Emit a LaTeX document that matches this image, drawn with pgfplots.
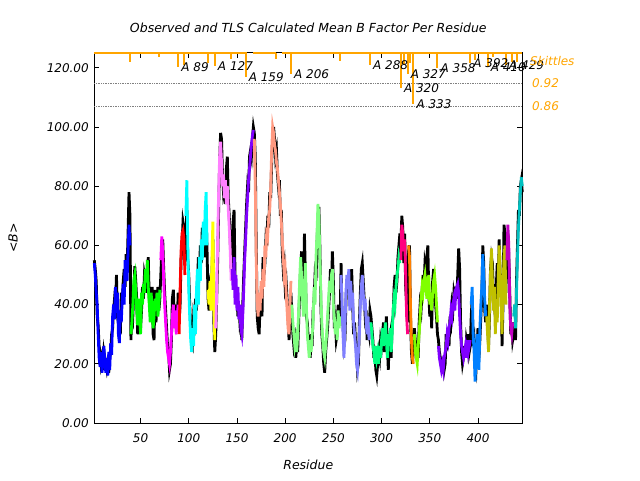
\documentclass[border=0pt]{standalone}
\usepackage{fontspec}
\setmainfont{DejaVu Sans}
\usepackage{pgfplots}
\usepackage{pgfplotstable}
\pgfplotsset{compat=1.18}
\definecolor{sk}{RGB}{255,165,0}
\definecolor{c01}{HTML}{0000FF}
\definecolor{c02}{HTML}{00FF00}
\definecolor{c03}{HTML}{FF00FF}
\definecolor{c04}{HTML}{FF0000}
\definecolor{c05}{HTML}{00FFFF}
\definecolor{c06}{HTML}{FFFF00}
\definecolor{c07}{HTML}{FF80FF}
\definecolor{c08}{HTML}{8000FF}
\definecolor{c09}{HTML}{FF9980}
\definecolor{c10}{HTML}{80FF80}
\definecolor{c11}{HTML}{8080FF}
\definecolor{c12}{HTML}{00FF80}
\definecolor{c13}{HTML}{FF0080}
\definecolor{c14}{HTML}{FF8000}
\definecolor{c15}{HTML}{80FF00}
\definecolor{c16}{HTML}{8000FF}
\definecolor{c17}{HTML}{0080FF}
\definecolor{c18}{HTML}{C0C000}
\definecolor{c19}{HTML}{C000C0}
\definecolor{c20}{HTML}{00C0C0}
\pgfplotstableread{
r obs calc
2 55 54
3 52 50
4 48 44
5 36 40
6 33 30
7 26 22
8 24 19
9 20 24
10 22 17
11 18 22
12 24 26
13 22 20
14 20 17
15 18 22
16 20 16
17 17 24
18 22 18
19 24 27
20 30 23
21 32 36
22 38 40
23 42 35
24 40 46
25 50 38
26 36 44
27 34 30
28 32 27
29 30 38
30 44 34
31 40 42
32 48 47
33 52 40
34 46 55
35 57 50
36 52 48
37 64 58
38 78 67
39 70 60
40 28 30
41 38 34
42 36 40
43 44 48
44 53 50
45 48 45
46 42 38
47 30 33
48 36 42
49 40 36
50 32 30
51 38 44
52 46 40
53 42 47
54 50 44
55 48 52
56 44 48
57 52 55
58 56 46
59 42 40
60 38 34
61 36 44
62 46 38
63 30 32
64 28 36
65 45 42
66 34 38
67 40 44
68 46 36
69 38 40
70 42 45
71 50 55
72 58 63
73 62 58
74 52 48
75 44 40
76 38 34
77 32 28
78 26 24
79 24 22
80 18 20
81 20 24
82 28 30
83 42 36
84 45 40
85 36 32
86 34 38
87 40 30
88 33 36
89 44 40
90 34 30
91 40 45
92 55 58
93 60 64
94 68 65
95 66 62
96 55 50
97 62 70
98 72 82
99 55 60
100 50 45
101 40 36
102 32 28
103 30 24
104 28 32
105 36 26
106 34 40
107 42 30
108 38 45
109 48 52
110 56 40
111 50 56
112 60 48
113 54 62
114 66 55
115 60 68
116 56 60
117 64 72
118 70 78
119 58 60
120 42 45
121 38 40
122 46 48
123 44 38
124 50 55
125 62 68
126 34 40
127 24 28
128 30 32
129 42 45
130 55 62
131 72 78
132 88 90
133 98 95
134 96 88
135 84 80
136 78 84
137 80 76
138 74 82
139 86 74
140 90 80
141 76 72
142 70 66
143 62 58
144 52 48
145 56 52
146 68 45
147 72 56
148 50 40
149 44 50
150 42 38
151 36 46
152 40 35
153 34 40
154 36 32
155 28 30
156 40 36
157 50 45
158 58 55
159 66 62
160 74 70
161 80 76
162 78 82
163 90 86
164 92 90
165 90 94
166 96 97
167 100 99
168 98 96
169 90 80
170 60 55
171 36 40
172 32 36
173 30 44
174 40 38
175 42 48
176 36 42
177 56 52
178 50 46
179 54 60
180 62 56
181 60 66
182 70 64
183 66 70
184 78 72
185 76 80
186 88 92
187 96 100
188 100 98
189 96 94
190 90 92
191 92 88
192 84 86
193 80 82
194 82 78
195 70 74
196 72 68
197 58 62
198 52 56
199 54 50
200 46 52
201 48 44
202 42 38
203 36 32
204 28 30
205 34 40
206 44 48
207 36 40
208 30 34
209 26 30
210 28 26
211 22 28
212 26 24
213 24 30
214 34 38
215 44 48
216 52 56
217 58 50
218 46 42
219 40 36
220 64 44
221 50 54
222 36 40
223 34 30
224 28 26
225 26 22
226 22 28
227 30 24
228 26 30
229 38 34
230 42 46
231 50 40
232 48 56
233 60 64
234 70 74
235 73 70
236 60 56
237 40 44
238 30 34
239 26 28
240 20 24
241 17 22
242 24 26
243 28 30
244 32 36
245 38 42
246 44 48
247 52 44
248 46 50
249 58 52
250 48 40
251 32 36
252 34 30
253 28 34
254 30 28
255 40 38
256 36 32
257 34 36
258 54 50
259 36 40
260 34 30
261 26 22
262 28 32
263 40 44
264 48 50
265 44 46
266 50 52
267 42 38
268 46 48
269 52 40
270 40 44
271 30 34
272 34 30
273 28 26
274 24 20
275 18 18
276 20 24
277 34 30
278 44 40
279 52 46
280 54 50
281 48 44
282 42 38
283 36 42
284 38 34
285 28 30
286 32 36
287 30 28
288 38 34
289 36 34
290 32 30
291 28 26
292 22 24
293 26 20
294 18 26
295 16 22
296 20 24
297 24 20
298 22 26
299 28 22
300 26 28
301 30 32
302 34 26
303 24 30
304 30 34
305 36 28
306 26 22
307 18 30
308 28 26
309 30 32
310 22 24
311 34 30
312 36 38
313 46 42
314 50 40
315 44 46
316 48 50
317 56 52
318 60 56
319 64 54
320 60 55
321 70 67
322 66 64
323 54 58
324 64 62
325 46 50
326 40 36
327 34 30
328 58 60
329 60 56
330 36 40
331 24 28
332 20 22
333 24 20
334 32 30
335 28 24
336 26 22
337 24 20
338 22 26
339 34 30
340 40 36
341 38 42
342 44 46
343 50 44
344 46 48
345 54 50
346 52 46
347 56 42
348 60 48
349 44 50
350 36 40
351 42 44
352 32 38
353 48 44
354 52 48
355 46 50
356 40 46
357 36 40
358 30 34
359 28 26
360 24 22
361 22 20
362 20 18
363 17 20
364 22 18
365 18 22
366 20 24
367 30 26
368 28 30
369 32 28
370 26 32
371 36 34
372 34 38
373 40 36
374 38 40
375 44 42
376 42 38
377 46 44
378 42 46
379 50 47
380 59 44
381 52 36
382 34 30
383 24 26
384 20 24
385 22 22
386 26 24
387 22 26
388 28 22
389 26 28
390 30 24
391 24 26
392 26 28
393 36 40
394 42 46
395 26 30
396 28 24
397 20 14
398 18 22
399 26 30
400 32 26
401 22 18
402 28 32
403 36 40
404 42 46
405 60 57
406 54 50
407 38 42
408 34 36
409 40 36
410 34 30
411 26 24
412 36 40
413 52 50
414 56 59
415 54 48
416 44 38
417 40 46
418 36 30
419 46 40
420 54 34
421 44 48
422 62 60
423 50 52
424 46 40
425 26 30
426 40 46
427 67 56
428 64 60
429 44 40
430 60 55
431 64 67
432 56 60
433 44 40
434 30 32
435 34 30
436 28 34
437 30 36
438 34 40
439 28 32
440 48 44
441 60 56
442 72 66
443 70 72
444 80 78
445 82 83
446 78 80
}\bdata
\begin{document}
\begin{tikzpicture}
\useasboundingbox (0,0) rectangle (640pt,480pt);
\begin{axis}[
  at={(94.3pt,57pt)}, anchor=south west,
  scale only axis, width=428pt, height=370pt,
  xmin=2, xmax=446, ymin=0, ymax=125,
  xtick={50,100,...,400}, ytick={0,20,...,120},
  tick align=inside, major tick length=5pt,
  axis line style={line width=1pt},
  every tick/.style={black, line width=0.8pt},
  clip=false,
  /pgf/number format/assume math mode=true,
  yticklabel style={/pgf/number format/fixed, /pgf/number format/fixed zerofill, /pgf/number format/precision=2, xshift=-2pt},
  xticklabel style={yshift=-7pt},
  tick label style={font=\fontsize{12}{14}\selectfont\itshape},
  title={Observed and TLS Calculated Mean B Factor Per Residue},
  title style={at={(axis description cs:0.5,1.038)}, anchor=base, font=\fontsize{12.5}{14}\selectfont\itshape},
  xlabel={Residue},
  xlabel style={at={(axis description cs:0.5,-0.127)}, anchor=base, font=\fontsize{12.5}{14}\selectfont\itshape},
  ylabel={<B>},
  ylabel style={at={(axis description cs:-0.19,0.5)}, anchor=center, rotate=0, font=\fontsize{12.5}{14}\selectfont\itshape},
]
% grey dotted skittle levels
\addplot[gray, densely dotted, line width=0.7pt] coordinates {(2,114.9) (446,114.9)};
\addplot[gray, densely dotted, line width=0.7pt] coordinates {(2,107.0) (446,107.0)};
% observed
\addplot[black, line width=2.8pt, line join=miter] table[x=r, y=obs] {\bdata};
% TLS calculated, per segment
\addplot[c01, line width=2.8pt] table[x=r, y=calc, restrict x to domain=2:39] {\bdata};
\addplot[c02, line width=2.8pt] table[x=r, y=calc, restrict x to domain=40:70] {\bdata};
\addplot[c03, line width=2.8pt] table[x=r, y=calc, restrict x to domain=71:89] {\bdata};
\addplot[c04, line width=2.8pt] table[x=r, y=calc, restrict x to domain=90:96] {\bdata};
\addplot[c05, line width=2.8pt] table[x=r, y=calc, restrict x to domain=97:119] {\bdata};
\addplot[c06, line width=2.8pt] table[x=r, y=calc, restrict x to domain=120:127] {\bdata};
\addplot[c07, line width=2.8pt] table[x=r, y=calc, restrict x to domain=128:144] {\bdata};
\addplot[c08, line width=2.8pt] table[x=r, y=calc, restrict x to domain=145:167] {\bdata};
\addplot[c09, line width=2.8pt] table[x=r, y=calc, restrict x to domain=168:206] {\bdata};
\addplot[c10, line width=2.8pt] table[x=r, y=calc, restrict x to domain=207:257] {\bdata};
\addplot[c11, line width=2.8pt] table[x=r, y=calc, restrict x to domain=258:288] {\bdata};
\addplot[c12, line width=2.8pt] table[x=r, y=calc, restrict x to domain=289:319] {\bdata};
\addplot[c13, line width=2.8pt] table[x=r, y=calc, restrict x to domain=320:327] {\bdata};
\addplot[c14, line width=2.8pt] table[x=r, y=calc, restrict x to domain=328:333] {\bdata};
\addplot[c15, line width=2.8pt] table[x=r, y=calc, restrict x to domain=334:358] {\bdata};
\addplot[c16, line width=2.8pt] table[x=r, y=calc, restrict x to domain=359:392] {\bdata};
\addplot[c17, line width=2.8pt] table[x=r, y=calc, restrict x to domain=393:408] {\bdata};
\addplot[c18, line width=2.8pt] table[x=r, y=calc, restrict x to domain=409:429] {\bdata};
\addplot[c19, line width=2.8pt] table[x=r, y=calc, restrict x to domain=430:436] {\bdata};
\addplot[c20, line width=2.8pt] table[x=r, y=calc, restrict x to domain=437:446] {\bdata};
% skittles line along the top
\addplot[sk, line width=2pt, unbounded coords=jump] coordinates {(2,125) (160.5,125) (160.5,nan) (167,125) (191,125) (191,nan) (197,125) (446,125)};
% skittles bars
\addplot[sk, line width=2pt, unbounded coords=jump] coordinates {
(39,125) (39,122.0) (39,nan)
(69,125) (69,123.5) (69,nan)
(89,125) (89,120.2) (89,nan)
(95,125) (95,121.0) (95,nan)
(120,125) (120,121.6) (120,nan)
(127,125) (127,120.5) (127,nan)
(144,125) (144,123.1) (144,nan)
(159,125) (159,116.8) (159,nan)
(190,125) (190,123.1) (190,nan)
(206,125) (206,117.9) (206,nan)
(257,125) (257,122.2) (257,nan)
(288,125) (288,120.8) (288,nan)
(320,125) (320,113.2) (320,nan)
(323,125) (323,121.3) (323,nan)
(327,125) (327,117.9) (327,nan)
(329,125) (329,121.6) (329,nan)
(333,125) (333,107.8) (333,nan)
(358,125) (358,119.9) (358,nan)
(392,125) (392,121.6) (392,nan)
(397,125) (397,122.6) (397,nan)
(410,125) (410,120.2) (410,nan)
(416,125) (416,123.6) (416,nan)
(429,125) (429,120.8) (429,nan)
(435,125) (435,122.0) (435,nan)
(441,125) (441,122.0) (441,nan)
};
% skittle labels
\addplot[draw=none, mark=none, nodes near coords, point meta=explicit symbolic,
  nodes near coords align={anchor=west},
  every node near coord/.append style={font=\fontsize{12}{14}\selectfont\itshape, inner sep=0pt, xshift=3pt, text=black}]
 coordinates {
(89,120.2) [A 89]
(127,120.5) [A 127]
(159,116.8) [A 159]
(206,117.9) [A 206]
(288,120.8) [A 288]
(320,113.2) [A 320]
(327,117.9) [A 327]
(333,107.8) [A 333]
(358,119.9) [A 358]
(392,121.6) [A 392]
(410,120.2) [A 410]
(429,120.8) [A 429]
};
\end{axis}
\node[anchor=west, text=sk, font=\fontsize{12}{14}\selectfont\itshape, inner sep=0pt] at (530pt,419pt) {Skittles};
\node[anchor=west, text=sk, font=\fontsize{12}{14}\selectfont\itshape, inner sep=0pt] at (532pt,397pt) {0.92};
\node[anchor=west, text=sk, font=\fontsize{12}{14}\selectfont\itshape, inner sep=0pt] at (532pt,374pt) {0.86};
\end{tikzpicture}
\end{document}
